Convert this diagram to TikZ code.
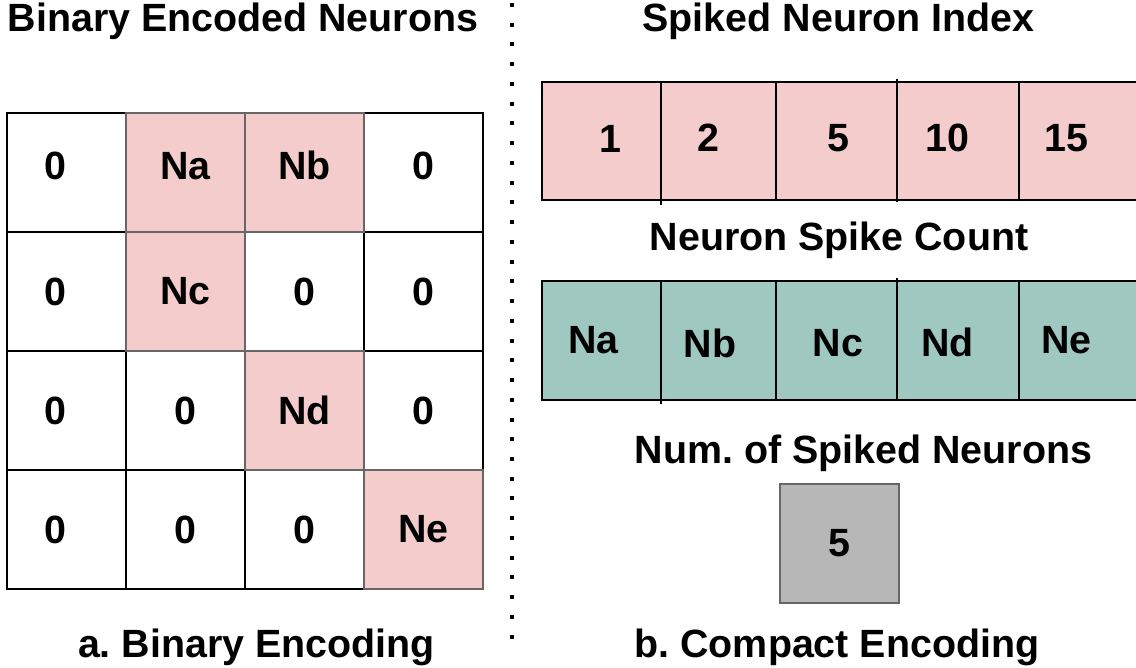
\documentclass[tikz,border=0pt]{standalone}
\usepackage{fontspec}
\setmainfont{Liberation Sans}
\usepackage{tikz}
\definecolor{spikepink}{HTML}{F4CCCC}
\definecolor{countteal}{HTML}{9FC8C0}
\definecolor{numgray}{HTML}{B7B7B7}
\definecolor{edgegray}{HTML}{666666}
\newcommand{\lcol}[1]{#1\hspace*{11pt}}
\frenchspacing

\begin{document}
\begin{tikzpicture}
				[x=0.5pt,y=-0.5pt,every node/.style={font=\bfseries\fontsize{19.7}{23.6}\selectfont},
				cell/.style={draw=black,line width=1pt,minimum width=59.5pt,minimum height=59.5pt,inner sep=0pt},
				hit/.style={cell,draw=edgegray,fill=spikepink},
				rowa/.style={text depth=7pt},
				bar/.style={draw=black,line width=1pt,inner sep=0pt,minimum width=297.5pt},
				title/.style={anchor=base}]
				\useasboundingbox (0,0) rectangle (1136,668);
				
				\node[cell,rowa] (c11) at (66.5,172.5)  {\lcol{0}};
				\node[cell,rowa] (c14) at (423.5,172.5) {0};
				\node[cell] (c21) at (66.5,291.5)  {\lcol{0}};
				\node[cell] (c23) at (304.5,291.5) {0};
				\node[cell] (c24) at (423.5,291.5) {0};
				\node[cell] (c31) at (66.5,410.5)  {\lcol{0}};
				\node[cell] (c32) at (185.5,410.5) {0};
				\node[cell] (c34) at (423.5,410.5) {0};
				\node[cell] (c41) at (66.5,529.5)  {\lcol{0}};
				\node[cell] (c42) at (185.5,529.5) {0};
				\node[cell] (c43) at (304.5,529.5) {0};
				\node[hit,rowa] (c12) at (185.5,172.5) {Na};
				\node[hit,rowa] (c13) at (304.5,172.5) {Nb};
				\node[hit] (c22) at (185.5,291.5) {Nc};
				\node[hit] (c33) at (304.5,410.5) {Nd};
				\node[hit] (c44) at (423.5,529.5) {Ne};
				
				\draw[line width=2pt,dash pattern=on 2pt off 7.87pt] (512,3) -- (512,641);
				
				\node[bar,fill=spikepink,minimum height=59pt] (index) at (839.5,141) {};
				\node[bar,fill=countteal,minimum height=59.5pt] (count) at (839.5,340.5) {};
				\foreach \dy in {0,199}
				\foreach \x/\ya/\yb in {661/82/205,776/82/200,897/79/202,1019/82/200}
				\draw[line width=1pt] (\x,\ya+\dy) -- (\x,\yb+\dy);
				
				\node (i1) at (610,138.5) {1};
				\node (i2) at (708.5,138) {2};
				\node (i5) at (838,138) {5};
				\node (i10) at (947,138) {10};
				\node (i15) at (1066.5,138) {15};
				
				\node (na) at (593.5,340) {Na};
				\node (nb) at (710,343) {Nb};
				\node (nc) at (838,343) {Nc};
				\node (nd) at (947.5,342.5) {Nd};
				\node (ne) at (1066.5,340) {Ne};
				
				\node[cell,draw=edgegray,fill=numgray] (total) at (839.5,543.5) {5};
				
				\node[title] (tleft) at (243,32) {Binary Encoded Neurons};
				\node[title] (tindex) at (838.5,32) {Spiked Neuron Index};
				\node[title] (tcount) at (839,251) {Neuron Spike Count};
				\node[title] (ttotal) at (863.5,463) {Num. of Spiked Neurons};
				\node[title] (capa) at (256.5,657) {a. Binary Encoding};
				\node[title] (capb) at (837,657) {b. Compact Encoding};
				
				\end{tikzpicture}
\end{document}
